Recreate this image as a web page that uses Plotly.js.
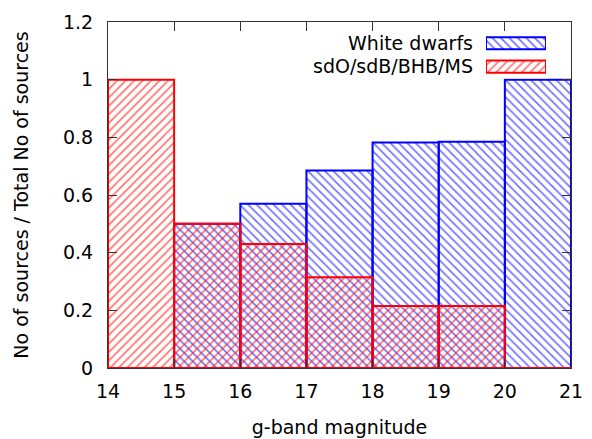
<!DOCTYPE html>
<html>
<head>
<meta charset="utf-8">
<script src="https://cdn.plot.ly/plotly-3.0.1.min.js"></script>
<style>html,body{margin:0;padding:0;background:#fff;}#chart{width:592px;height:439px;}</style>
</head>
<body>
<div id="chart"></div>
<script>
const binCenters = [14.5, 15.5, 16.5, 17.5, 18.5, 19.5, 20.5];
const whiteDwarfs = [0, 0.5, 0.57, 0.685, 0.782, 0.785, 1.0];
const sdOsdB = [1.0, 0.5, 0.43, 0.315, 0.215, 0.215, 0];
const seriesNames = ['White dwarfs', 'sdO/sdB/BHB/MS'];
const yTickVals = [0, 0.2, 0.4, 0.6, 0.8, 1, 1.2];
const yTickText = ['0', '0.2', '0.4', '0.6', '0.8', '1', '1.2'];
const xTickVals = [14, 15, 16, 17, 18, 19, 20, 21];

const font = 'DejaVu Sans, sans-serif';
const fs = 19;
const blue = '#0000ff', red = '#ff0000';
const blueHatch = 'rgba(20,20,255,0.6)', redHatch = 'rgba(255,20,20,0.6)';

function pat(shape) { return {shape: shape, fillmode: 'replace', size: 6, solidity: 0.28}; }

function barTrace(y, hatchColor, lineColor, shape, name) {
  return {
    type: 'bar', x: binCenters, y: y, width: 1, name: name,
    marker: {color: hatchColor, line: {color: lineColor, width: 2}, pattern: pat(shape)},
    showlegend: false, hoverinfo: 'skip'
  };
}

const traces = [
  barTrace(whiteDwarfs, blueHatch, blue, '\\', seriesNames[0]),
  barTrace(sdOsdB, redHatch, red, '/', seriesNames[1]),
  {
    type: 'bar', orientation: 'h', x: [1], y: [seriesNames[0]], width: 0.52,
    xaxis: 'x2', yaxis: 'y2', showlegend: false, hoverinfo: 'skip',
    marker: {color: blueHatch, line: {color: blue, width: 2}, pattern: pat('\\')}
  },
  {
    type: 'bar', orientation: 'h', x: [1], y: [seriesNames[1]], width: 0.52,
    xaxis: 'x2', yaxis: 'y2', showlegend: false, hoverinfo: 'skip',
    marker: {color: redHatch, line: {color: red, width: 2}, pattern: pat('/')}
  }
];

const layout = {
  width: 592, height: 439,
  margin: {l: 108, r: 21, t: 22, b: 71},
  paper_bgcolor: '#fff', plot_bgcolor: '#fff',
  font: {family: font, size: fs, color: '#000'},
  barmode: 'overlay', bargap: 0,
  showlegend: false,
  xaxis: {
    range: [14, 21], tickvals: xTickVals, ticks: 'inside', ticklen: 9, tickcolor: '#333',
    showline: true, linecolor: '#333', linewidth: 1, mirror: 'allticks',
    showgrid: false, zeroline: false, tickfont: {size: fs, family: font}, ticklabelstandoff: 6,
    title: {text: 'g-band magnitude', font: {size: fs, family: font}, standoff: 19}
  },
  yaxis: {
    range: [0, 1.2], tickvals: yTickVals, ticktext: yTickText, ticks: 'inside', ticklen: 9, tickcolor: '#333',
    showline: true, linecolor: '#333', linewidth: 1, mirror: 'allticks',
    showgrid: false, zeroline: false, tickfont: {size: fs, family: font}, ticklabelstandoff: 10,
    title: {text: 'No of sources / Total No of sources', font: {size: fs, family: font}, standoff: 29}
  },
  xaxis2: {
    domain: [0.8164, 0.946], range: [0, 1], anchor: 'y2',
    visible: false, fixedrange: true
  },
  yaxis2: {
    domain: [0.837, 0.9723], anchor: 'x2', type: 'category',
    categoryorder: 'array', categoryarray: [seriesNames[1], seriesNames[0]],
    showline: false, showgrid: false, zeroline: false, ticks: '', ticklabelstandoff: 12,
    tickfont: {size: fs, family: font}, fixedrange: true
  }
};

Plotly.newPlot('chart', traces, layout, {displayModeBar: false, staticPlot: true});
</script>
</body>
</html>
